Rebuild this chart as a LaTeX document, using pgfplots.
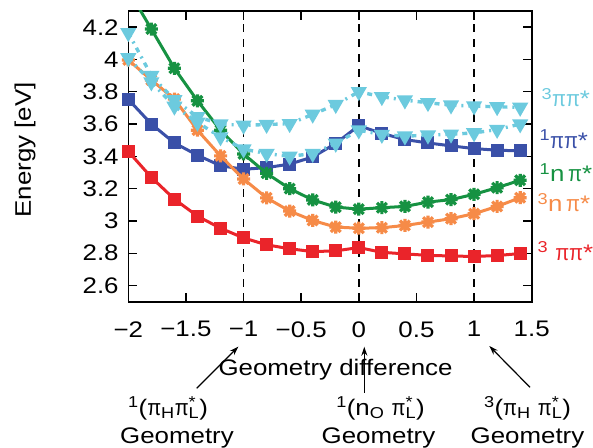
\documentclass[border=0pt]{standalone}
\usepackage{fontspec}
\setmainfont{Liberation Sans}[FakeStretch=1.15]
\usepackage{graphicx}
\usepackage{pgfplots}
\pgfplotsset{compat=1.18}
\usetikzlibrary{arrows.meta}

\definecolor{cred}{RGB}{234,36,42}
\definecolor{cblue}{RGB}{58,80,168}
\definecolor{cgreen}{RGB}{22,146,66}
\definecolor{corange}{RGB}{246,139,72}
\definecolor{ccyan}{RGB}{108,202,222}

% narrower pi, closer to the symbol font of the original
\newcommand{\pii}{\scalebox{0.78}[1]{π}}

% x and + together, like the markers of the n pi* curves
\pgfdeclareplotmark{xplus}{%
  \pgfpathmoveto{\pgfqpoint{-0.75\pgfplotmarksize}{-0.75\pgfplotmarksize}}%
  \pgfpathlineto{\pgfqpoint{0.75\pgfplotmarksize}{0.75\pgfplotmarksize}}%
  \pgfpathmoveto{\pgfqpoint{-0.75\pgfplotmarksize}{0.75\pgfplotmarksize}}%
  \pgfpathlineto{\pgfqpoint{0.75\pgfplotmarksize}{-0.75\pgfplotmarksize}}%
  \pgfpathmoveto{\pgfqpoint{-\pgfplotmarksize}{0pt}}%
  \pgfpathlineto{\pgfqpoint{\pgfplotmarksize}{0pt}}%
  \pgfpathmoveto{\pgfqpoint{0pt}{-\pgfplotmarksize}}%
  \pgfpathlineto{\pgfqpoint{0pt}{\pgfplotmarksize}}%
  \pgfusepathqstroke}

\begin{document}
\fontsize{22.5}{27}\selectfont
\begin{tikzpicture}
\path[use as bounding box] (-128.3pt,-145.3pt) rectangle (464.7pt,301.7pt);
\begin{axis}[
    at={(0pt,0pt)}, anchor=south west,
    scale only axis,
    width=403.4pt, height=290.7pt,
    xmin=-2, xmax=1.5, ymin=2.5, ymax=4.3,
    xtick={-2,-1.5,-1,-0.5,0,0.5,1,1.5},
    xticklabels={−2,−1.5,−1,−0.5,0,0.5,1,1.5},
    ytick={2.6,2.8,3,3.2,3.4,3.6,3.8,4,4.2},
    yticklabels={2.6,2.8,3,3.2,3.4,3.6,3.8,4,4.2},
    tick align=inside,
    major tick length=9pt,
    tick style={black, line width=1.4pt},
    axis line style={black, line width=1.6pt},
    xticklabel style={yshift=-12pt},
    yticklabel style={xshift=-2pt},
    clip mode=individual,
]
% reference geometries
\draw[black, line width=1.4pt, dash pattern=on 8pt off 7pt] (axis cs:-1,2.5) -- (axis cs:-1,4.3);
\draw[black, line width=1.4pt, dash pattern=on 8pt off 7pt] (axis cs:0,2.5) -- (axis cs:0,4.3);
\draw[black, line width=1.4pt, dash pattern=on 8pt off 7pt] (axis cs:1,2.5) -- (axis cs:1,4.3);

% 3 pi pi* (red)
\addplot[cred, line width=3pt, mark=square*, mark size=5pt] coordinates {
(-2,3.43) (-1.8,3.27) (-1.6,3.135) (-1.4,3.03) (-1.2,2.955) (-1.0,2.895)
(-0.8,2.852) (-0.6,2.828) (-0.4,2.81) (-0.2,2.815) (0,2.835) (0.2,2.806)
(0.4,2.796) (0.6,2.787) (0.8,2.783) (1.0,2.78) (1.2,2.786) (1.4,2.798)};

% 1 pi pi* (blue)
\addplot[cblue, line width=3pt, mark=square*, mark size=5pt] coordinates {
(-2,3.753) (-1.8,3.60) (-1.6,3.483) (-1.4,3.407) (-1.2,3.342) (-1.0,3.32)
(-0.8,3.33) (-0.6,3.352) (-0.4,3.396) (-0.2,3.48) (0,3.59) (0.2,3.542)
(0.4,3.504) (0.6,3.483) (0.8,3.465) (1.0,3.448) (1.2,3.438) (1.4,3.434)};

% 3 n pi* (orange)
\addplot[corange, line width=3pt, mark=xplus, mark size=6.5pt, mark options={line width=3.2pt}] coordinates {
(-2,3.997) (-1.8,3.873) (-1.6,3.755) (-1.4,3.562) (-1.2,3.403) (-1.0,3.26)
(-0.8,3.143) (-0.6,3.061) (-0.4,3.003) (-0.2,2.962) (0,2.955) (0.2,2.958)
(0.4,2.972) (0.6,2.993) (0.8,3.014) (1.0,3.045) (1.2,3.09) (1.4,3.144)};

% 1 n pi* (green)
\addplot[cgreen, line width=3pt, mark=xplus, mark size=6.5pt, mark options={line width=3.2pt}] coordinates {
(-2,4.43) (-1.8,4.188) (-1.6,3.945) (-1.4,3.744) (-1.2,3.562) (-1.0,3.415)
(-0.8,3.295) (-0.6,3.2) (-0.4,3.13) (-0.2,3.086) (0,3.073) (0.2,3.082)
(0.4,3.09) (0.6,3.117) (0.8,3.132) (1.0,3.165) (1.2,3.206) (1.4,3.252)};

% cyan, lower
\addplot[ccyan, line width=3.4pt, dash pattern=on 5pt off 5pt on 2pt off 5pt, mark=triangle*, mark size=6pt, mark options={solid, rotate=180}] coordinates {
(-2,4.01) (-1.8,3.86) (-1.6,3.71) (-1.4,3.61) (-1.2,3.52) (-1.0,3.445)
(-0.8,3.417) (-0.6,3.40) (-0.4,3.417) (-0.2,3.48) (0,3.562) (0.2,3.535)
(0.4,3.525) (0.6,3.531) (0.8,3.537) (1.0,3.545) (1.2,3.566) (1.4,3.60)};

% 3 pi pi* cyan, upper
\addplot[ccyan, line width=3.4pt, dash pattern=on 5pt off 5pt on 2pt off 5pt, mark=triangle*, mark size=6pt, mark options={solid, rotate=180}] coordinates {
(-2,4.165) (-1.8,3.90) (-1.6,3.75) (-1.4,3.645) (-1.2,3.60) (-1.0,3.592)
(-0.8,3.597) (-0.6,3.602) (-0.4,3.66) (-0.2,3.72) (0,3.80) (0.2,3.769)
(0.4,3.748) (0.6,3.732) (0.8,3.717) (1.0,3.711) (1.2,3.707) (1.4,3.703)};
\end{axis}

% axis titles
\node[rotate=90] at (-103.3pt,151.7pt) {Energy [eV]};
\node[anchor=base] at (207.2pt,-73.3pt) {Geometry difference};

% state labels
\begin{scope}[every node/.style={inner sep=0pt, anchor=base west}]
\node[text=ccyan] at (413pt,194.7pt) {\textsuperscript{3}\pii\pii*};
\node[text=cblue] at (411pt,153.4pt) {\textsuperscript{1}\pii\pii*};
\node[text=cgreen] at (411pt,120pt) {\textsuperscript{1}n\,\pii*};
\node[text=corange] at (409pt,90pt) {\textsuperscript{3}n\,\pii*};
\node[text=cred] at (409pt,41.7pt) {\textsuperscript{3} \pii\pii*};
\end{scope}

% geometry annotations
\draw[line width=1.2pt, -{Stealth[length=9pt,width=6pt]}] (68.4pt,-86.6pt) -- (110pt,-45pt);
\draw[line width=1.2pt, -{Stealth[length=9pt,width=6pt]}] (236pt,-91pt) -- (236pt,-45pt);
\draw[line width=1.2pt, -{Stealth[length=9pt,width=6pt]}] (401.7pt,-85.6pt) -- (361pt,-44.3pt);

\node[anchor=base] at (39.7pt,-113.3pt) {\textsuperscript{1}(\pii\textsubscript{H}\pii\rlap{\textsuperscript{*}}\textsubscript{L})};
\node[anchor=base] at (48.7pt,-141.3pt) {Geometry};
\node[anchor=base] at (252.2pt,-113.3pt) {\textsuperscript{1}(n\textsubscript{O} \pii\rlap{\textsuperscript{*}}\textsubscript{L})};
\node[anchor=base] at (250.2pt,-141.3pt) {Geometry};
\node[anchor=base] at (399.2pt,-113.3pt) {\textsuperscript{3}(\pii\textsubscript{H} \pii\rlap{\textsuperscript{*}}\textsubscript{L})};
\node[anchor=base] at (399.2pt,-141.3pt) {Geometry};
\end{tikzpicture}
\end{document}
